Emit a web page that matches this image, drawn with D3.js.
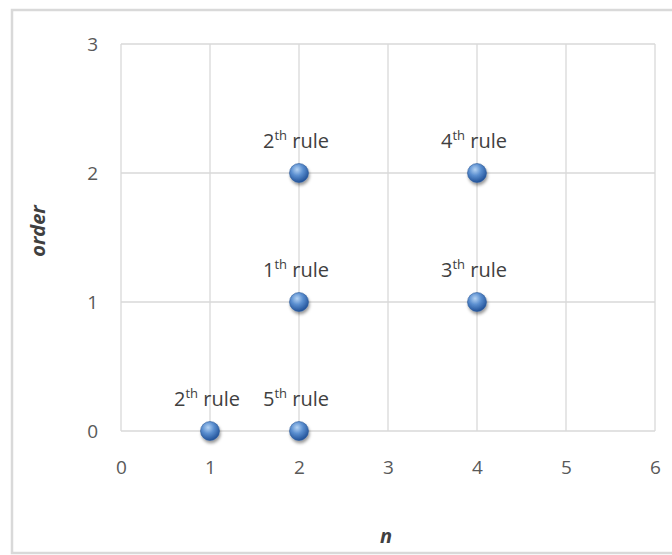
<!DOCTYPE html>
<html>
<head>
<meta charset="utf-8">
<script src="https://cdn.jsdelivr.net/npm/d3@7/dist/d3.min.js"></script>
<style>
  html, body { margin: 0; padding: 0; background: #fff; }
  svg { display: block; font-family: "Open Sans", "Noto Sans", sans-serif; }
</style>
</head>
<body>
<svg id="chart" width="672" height="555"></svg>
<script>
// Scatter points: n (x), order (y), rule number and label
const xValues = [2, 4, 2, 4, 1, 2];
const yValues = [2, 2, 1, 1, 0, 0];
const ruleNums = ["2", "4", "1", "3", "2", "5"];
const xTicks = [0, 1, 2, 3, 4, 5, 6];
const yTicks = [0, 1, 2, 3];

const svg = d3.select("#chart");
const W = 672, H = 555;

// Chart area frame
svg.append("rect")
  .attr("x", 12).attr("y", 10)
  .attr("width", W + 10).attr("height", 543)
  .attr("fill", "#fff")
  .attr("stroke", "#d9d9d9").attr("stroke-width", 2.5);

const x = d3.scaleLinear().domain([0, 6]).range([121, 655]);
const y = d3.scaleLinear().domain([0, 3]).range([431, 44]);

const defs = svg.append("defs");
const grad = defs.append("radialGradient")
  .attr("id", "ball").attr("cx", "40%").attr("cy", "32%").attr("r", "70%");
grad.append("stop").attr("offset", "0%").attr("stop-color", "#b5d3f3");
grad.append("stop").attr("offset", "45%").attr("stop-color", "#5b8fd0");
grad.append("stop").attr("offset", "100%").attr("stop-color", "#1f4f96");
const shadow = defs.append("filter").attr("id", "shadow")
  .attr("x", "-50%").attr("y", "-50%").attr("width", "200%").attr("height", "200%");
shadow.append("feDropShadow")
  .attr("dx", 1).attr("dy", 2.5).attr("stdDeviation", 1.8)
  .attr("flood-color", "#000").attr("flood-opacity", 0.4);

// Gridlines
const grid = svg.append("g").attr("stroke", "#d9d9d9").attr("stroke-width", 1.3);
grid.selectAll("line.v").data(xTicks).join("line")
  .attr("x1", d => x(d)).attr("x2", d => x(d))
  .attr("y1", y(0)).attr("y2", y(3));
grid.selectAll("line.h").data(yTicks).join("line")
  .attr("x1", x(0)).attr("x2", x(6))
  .attr("y1", d => y(d)).attr("y2", d => y(d));

// Axes (labels only)
const xAxis = svg.append("g")
  .attr("transform", `translate(0,${y(0)})`)
  .call(d3.axisBottom(x).tickValues(xTicks).tickSize(0).tickPadding(30).tickFormat(d3.format("d")));
const yAxis = svg.append("g")
  .attr("transform", `translate(${x(0)},0)`)
  .call(d3.axisLeft(y).tickValues(yTicks).tickSize(0).tickPadding(23).tickFormat(d3.format("d")));
[xAxis, yAxis].forEach(a => {
  a.select(".domain").remove();
  a.selectAll("text")
    .attr("font-family", "Open Sans, sans-serif")
    .attr("font-size", 19).attr("fill", "#595959");
});

// Axis titles
svg.append("text")
  .attr("x", 386).attr("y", 543)
  .attr("text-anchor", "middle")
  .attr("font-size", 20).attr("font-weight", "bold").attr("font-style", "italic")
  .attr("fill", "#404040").text("n");
svg.append("text")
  .attr("transform", `translate(45,231) rotate(-90)`)
  .attr("text-anchor", "middle")
  .attr("font-size", 20).attr("font-weight", "bold").attr("font-style", "italic")
  .attr("fill", "#404040").text("order");

const pts = xValues.map((v, i) => ({ x: v, y: yValues[i], r: ruleNums[i] }));

// Markers
svg.append("g").selectAll("circle").data(pts).join("circle")
  .attr("cx", d => x(d.x)).attr("cy", d => y(d.y)).attr("r", 9.5)
  .attr("fill", "url(#ball)")
  .attr("stroke", "#2f5d9a").attr("stroke-width", 0.6)
  .attr("filter", "url(#shadow)");

// Data labels
const lbl = svg.append("g").selectAll("text").data(pts).join("text")
  .attr("x", d => x(d.x) - 3).attr("y", d => y(d.y) - 25)
  .attr("text-anchor", "middle")
  .attr("font-size", 20).attr("fill", "#404040");
lbl.append("tspan").text(d => d.r);
lbl.append("tspan").attr("dy", -8).attr("font-size", 13).text("th");
lbl.append("tspan").attr("dy", 8).text(" rule");
</script>
</body>
</html>
